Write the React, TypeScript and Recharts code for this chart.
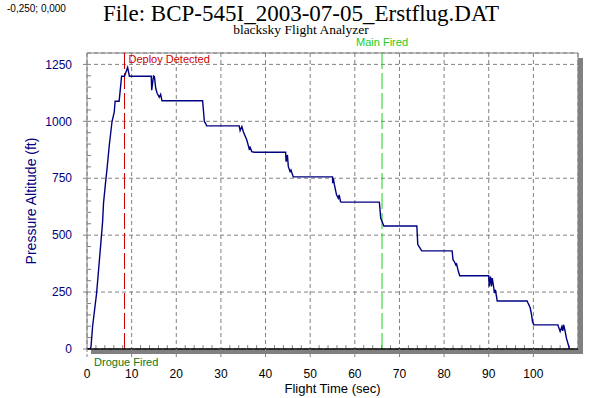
import {
  LineChart,
  Line,
  XAxis,
  YAxis,
  CartesianGrid,
  ReferenceLine,
  ReferenceArea,
} from "recharts";

// flight log
const flightTime = [
  0, 0.7, 0.9, 1.25, 2.15, 3.1, 3.5, 3.7, 4.1, 4.5, 5.0, 5.6, 6.1, 6.3, 7.2, 7.75, 8.4, 9.1, 9.5,
  14.4, 14.5, 14.9, 15.1, 15.4, 15.7, 16.2, 16.5, 16.8,
  25.9, 26.3, 26.6, 26.8,
  34.1, 34.3, 34.7, 35.0, 35.8, 36.2, 36.4, 36.5, 36.9, 37.5,
  44.5, 44.6, 44.9, 45.1, 45.5, 45.7, 46.2,
  55.0, 55.05, 55.2, 55.4, 55.9, 56.3, 56.5, 56.8, 57.0,
  65.5, 65.8, 66.1, 66.5,
  73.9, 74.1, 74.4, 75.0,
  81.8, 82.0, 82.4, 82.6, 82.8, 83.1, 83.5,
  90.0, 90.1, 90.4, 90.6, 90.8, 91.3, 91.5, 91.9,
  98.6, 98.8, 99.0, 99.3, 99.6, 99.8, 100.1,
  105.5, 105.6, 106.0, 106.4, 106.6, 106.8, 107.1, 107.4, 108.1,
];
const pressureAltitude = [
  0, 0, 11, 99, 245, 465, 560, 640, 720, 794, 896, 998, 1040, 1088, 1088, 1198, 1198, 1237, 1198,
  1198, 1137, 1199, 1196, 1145, 1123, 1106, 1118, 1090,
  1090, 998, 990, 980,
  980, 959, 977, 955, 918, 889, 874, 889, 867, 864,
  864, 823, 852, 801, 779, 786, 756,
  756, 728, 750, 724, 677, 662, 677, 647, 645,
  645, 575, 560, 540,
  540, 460, 450, 431,
  431, 392, 380, 370, 374, 348, 322,
  322, 275, 318, 275, 311, 246, 260, 211,
  211, 202, 194, 180, 150, 121, 106,
  106, 99, 77, 99, 80, 106, 80, 48, 0,
];

const timeTicks = [0, 10, 20, 30, 40, 50, 60, 70, 80, 90, 100];
const timeMinorTicks = [
  2, 4, 6, 8, 12, 14, 16, 18, 22, 24, 26, 28, 32, 34, 36, 38, 42, 44, 46, 48,
  52, 54, 56, 58, 62, 64, 66, 68, 72, 74, 76, 78, 82, 84, 86, 88, 92, 94, 96, 98,
  102, 104, 106, 108,
];
const altitudeTicks = [0, 250, 500, 750, 1000, 1250];
const altitudeMinorTicks = [
  50, 100, 150, 200, 300, 350, 400, 450, 550, 600, 650, 700, 800, 850, 900, 950,
  1050, 1100, 1150, 1200,
];

// event markers (sec)
const drogueFired = 0.7;
const deployDetected = 8.4;
const mainFired = 66.1;

const data = flightTime.map((t, i) => ({ t, alt: pressureAltitude[i] }));

const SANS = "'Liberation Sans', Arial, sans-serif";
const SERIF = "'Liberation Serif', 'Times New Roman', serif";
const NAVY = "#000080";
const GREY = "#808080";

// gray frame on top/right plus the drop shadow
const PlotFrame = (props: any) => {
  const { x, y, width, height } = props;
  return (
    <g>
      <rect x={x + 4} y={y + height + 0.5} width={width + 1} height={4.5} fill={GREY} />
      <rect x={x + width} y={y + 5} width={5} height={height} fill={GREY} />
      <line x1={x} y1={y} x2={x + width} y2={y} stroke={GREY} />
      <line x1={x + width} y1={y} x2={x + width} y2={y + height} stroke={GREY} />
    </g>
  );
};

const DeployLabel = ({ viewBox }: any) => (
  <text x={viewBox.x + 4} y={viewBox.y + 10} fill="#cc0000" fontSize={11} fontFamily={SANS}>
    Deploy Detected
  </text>
);

const MainLabel = ({ viewBox }: any) => (
  <text x={viewBox.x} y={viewBox.y - 7} fill="#22cc22" fontSize={11} fontFamily={SANS} textAnchor="middle">
    Main Fired
  </text>
);

const DrogueLabel = ({ viewBox }: any) => (
  <text x={viewBox.x + 4} y={viewBox.y + viewBox.height + 17} fill="#117711" fontSize={11} fontFamily={SANS}>
    Drogue Fired
  </text>
);

const AltitudeLabel = ({ viewBox }: any) => {
  const cx = viewBox.x - 16;
  const cy = viewBox.y + viewBox.height / 2;
  return (
    <text
      x={cx}
      y={cy}
      transform={`rotate(-90 ${cx} ${cy})`}
      textAnchor="middle"
      dominantBaseline="central"
      fill={NAVY}
      fontSize={14}
      fontFamily={SANS}
    >
      Pressure Altitude (ft)
    </text>
  );
};

export default function App() {
  return (
    <div style={{ position: "absolute", left: 0, top: 0, width: 604, height: 398, background: "#fff" }}>
      <LineChart
        width={604}
        height={398}
        data={data}
        margin={{ top: 53, right: 26, bottom: 19, left: 47 }}
      >
        <CartesianGrid stroke={GREY} strokeDasharray="4 3" />
        <ReferenceArea x1={0} x2={110} y1={0} y2={1300} shape={<PlotFrame />} />
        <XAxis
          dataKey="t"
          type="number"
          domain={[0, 110]}
          ticks={timeTicks}
          interval={0}
          allowDataOverflow
          height={30}
          tickSize={8}
          tickMargin={12}
          axisLine={{ stroke: "#000", strokeWidth: 1.5 }}
          tickLine={{ stroke: GREY, strokeDasharray: "3 2" }}
          tick={{ fill: "#000", fontSize: 12, fontFamily: SANS }}
          label={{ value: "Flight Time (sec)", position: "bottom", offset: 5, fill: "#000", fontSize: 13, fontFamily: SANS }}
        />
        <YAxis
          type="number"
          domain={[0, 1300]}
          ticks={altitudeTicks}
          interval={0}
          allowDataOverflow
          width={40}
          tickSize={4}
          tickMargin={11}
          axisLine={{ stroke: GREY }}
          tickLine={{ stroke: GREY }}
          tick={{ fill: NAVY, fontSize: 12, fontFamily: SANS }}
          label={{ content: <AltitudeLabel /> }}
        />
        {/* minor ticks inside the frame */}
        {timeMinorTicks.map((t) => (
          <ReferenceLine
            key={`mx${t}`}
            segment={[{ x: t, y: 0 }, { x: t, y: 17 }]}
            stroke={GREY}
          />
        ))}
        {altitudeMinorTicks.map((v) => (
          <ReferenceLine
            key={`my${v}`}
            segment={[{ x: 0, y: v }, { x: 0.9, y: v }]}
            stroke={GREY}
          />
        ))}
        <ReferenceLine x={drogueFired} stroke="none" strokeWidth={0} label={{ content: <DrogueLabel /> }} />
        <ReferenceLine
          x={deployDetected}
          stroke="#cc0000"
          strokeDasharray="16 4"
          label={{ content: <DeployLabel /> }}
        />
        <ReferenceLine
          x={mainFired}
          stroke="#22cc22"
          strokeDasharray="16 4"
          label={{ content: <MainLabel /> }}
        />
        <Line
          type="linear"
          dataKey="alt"
          stroke={NAVY}
          strokeWidth={1.4}
          dot={false}
          isAnimationActive={false}
        />
      </LineChart>
      <svg
        width={604}
        height={398}
        style={{ position: "absolute", left: 0, top: 0, pointerEvents: "none" }}
      >
        <text x={7} y={12} fontSize={10} fontFamily={SANS} fill="#000">
          -0,250; 0,000
        </text>
        <text x={301} y={20.5} fontSize={23} fontFamily={SERIF} textAnchor="middle" fill="#000">
          File: BCP-545I_2003-07-05_Erstflug.DAT
        </text>
        <text x={301} y={33.5} fontSize={13.5} fontFamily={SERIF} textAnchor="middle" fill="#000">
          blacksky Flight Analyzer
        </text>
      </svg>
    </div>
  );
}
